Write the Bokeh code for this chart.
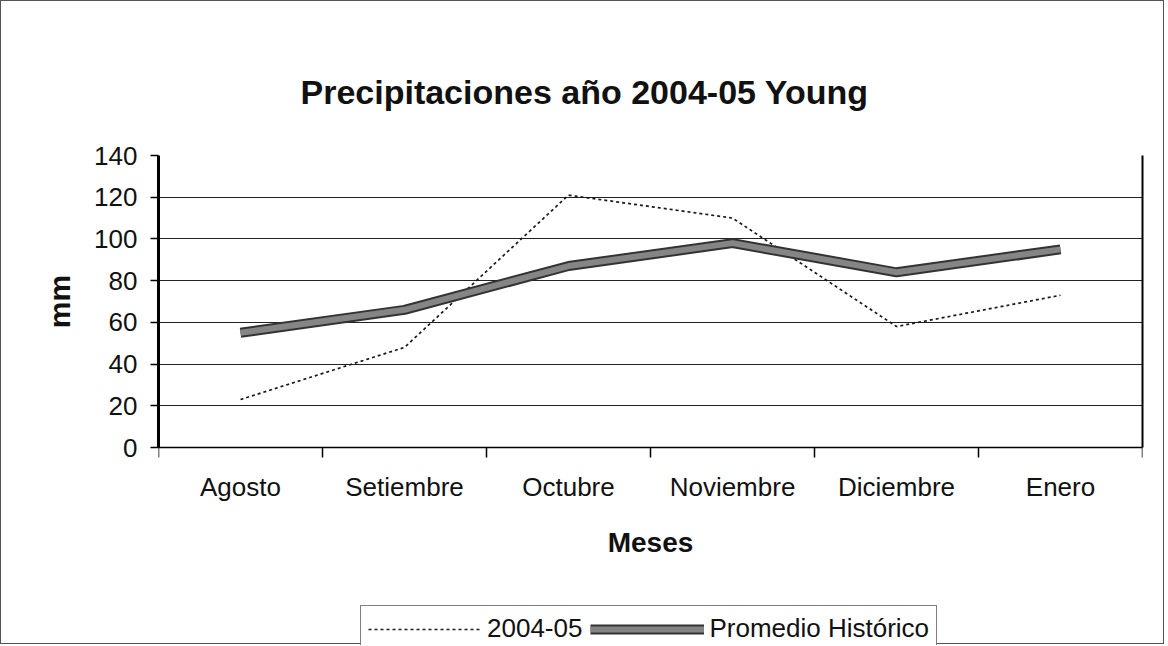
from bokeh.plotting import figure
from bokeh.models import Range1d, FixedTicker, Legend, LegendItem, LinearAxis, Title
from bokeh.embed import file_html
from bokeh.resources import INLINE

# ---- data ----
meses = ["Agosto", "Setiembre", "Octubre", "Noviembre", "Diciembre", "Enero"]
serie_2004_05 = [23, 48, 121, 110, 58, 73]
promedio_historico = [55, 66, 87, 98, 84, 95]
y_ticks = [0, 20, 40, 60, 80, 100, 120, 140]

titulo = "Precipitaciones año 2004-05 Young"
eje_x = "Meses"
eje_y = "mm"

FONT = "Liberation Sans"

# ---- layout (pixels) ----
W, H = 1164, 644
FRAME_TOP = 154          # y pixel of value 140
AXIS_Y = 446             # y pixel of value 0
FRAME_LEFT, FRAME_RIGHT = 157, 1141
Y_MAX = y_ticks[-1]
px_per_unit = (AXIS_Y - FRAME_TOP) / Y_MAX
y_low = -(H - AXIS_Y) / px_per_unit   # extend frame down to canvas bottom

x_pos = [i + 0.5 for i in range(len(meses))]
boundaries = list(range(len(meses) + 1))

p = figure(width=W, height=H, output_backend="svg", toolbar_location=None,
           x_range=Range1d(0, len(meses)), y_range=Range1d(y_low, Y_MAX),
           min_border_left=FRAME_LEFT, min_border_right=W - FRAME_RIGHT,
           min_border_top=FRAME_TOP, min_border_bottom=0)
p.styles = {"border": "1px solid #555"}
p.background_fill_color = "white"
p.border_fill_color = "white"
p.outline_line_color = None

# title
p.title.text = titulo
p.title.text_font = FONT
p.title.text_font_size = "34px"
p.title.text_font_style = "bold"
p.title.text_color = "#111"
p.title.align = "left"
p.title.offset = 142
p.title.standoff = 89

# x axis (drawn at y = 0)
xa = p.xaxis[0]
xa.fixed_location = 0
xa.ticker = FixedTicker(ticks=x_pos, minor_ticks=boundaries)
xa.major_label_overrides = {x: m for x, m in zip(x_pos, meses)}
xa.major_tick_out = 0
xa.major_tick_in = 0
xa.minor_tick_out = 10
xa.minor_tick_in = 0
xa.minor_tick_line_color = "black"
xa.minor_tick_line_width = 1.5
xa.axis_line_color = "black"
xa.axis_line_width = 1.5
xa.major_label_text_font = FONT
xa.major_label_text_font_size = "26px"
xa.major_label_text_color = "#111"
xa.major_label_standoff = 14
xa.axis_label = eje_x
xa.axis_label_text_font = FONT
xa.axis_label_text_font_size = "28px"
xa.axis_label_text_font_style = "bold"
xa.axis_label_text_color = "#111"
xa.axis_label_standoff = 22

# y axis
ya = p.yaxis[0]
ya.bounds = (0, Y_MAX)
ya.ticker = FixedTicker(ticks=y_ticks, minor_ticks=[])
ya.major_tick_out = 8
ya.major_tick_in = 0
ya.major_tick_line_color = "black"
ya.major_tick_line_width = 1.5
ya.minor_tick_out = 0
ya.axis_line_color = "black"
ya.axis_line_width = 3
ya.major_label_text_font = FONT
ya.major_label_text_font_size = "26px"
ya.major_label_text_color = "#111"
ya.major_label_standoff = 13

# y axis title, centred on the 0..140 span (the frame extends lower)
Y_TITLE_SIZE = 30
y_title_len = 2 * 0.889 * Y_TITLE_SIZE
span_center = (FRAME_TOP + AXIS_Y) / 2
y_title = Title(text=eje_y, align="right",
                offset=span_center - FRAME_TOP - y_title_len / 2,
                text_font=FONT, text_font_size=f"{Y_TITLE_SIZE}px", text_font_style="bold",
                text_color="#111", standoff=31)
p.add_layout(y_title, "left")

# right border of the plot area
right_border = LinearAxis(bounds=(0, Y_MAX), ticker=FixedTicker(ticks=[], minor_ticks=[]),
                          major_tick_out=0, major_tick_in=0, minor_tick_out=0, minor_tick_in=0,
                          major_label_text_font_size="0px",
                          axis_line_color="black", axis_line_width=2)
p.add_layout(right_border, "right")

# grid
p.xgrid.visible = False
p.ygrid.grid_line_color = "#222"
p.ygrid.grid_line_width = 1
p.ygrid.bounds = (0, Y_MAX)

# series
r1 = p.line(x_pos, serie_2004_05, line_color="#1a1a1a", line_width=1.7, line_dash="3 3")
r2a = p.line(x_pos, promedio_historico, line_color="#333", line_width=10, line_join="round")
r2b = p.line(x_pos, promedio_historico, line_color="#858585", line_width=6, line_join="round")

legend = Legend(items=[LegendItem(label="2004-05", renderers=[r1]),
                       LegendItem(label="Promedio Histórico", renderers=[r2a, r2b])],
                orientation="horizontal", location=(202, -7),
                label_text_font=FONT, label_text_font_size="26px", label_text_color="#111",
                glyph_width=114, glyph_height=30, padding=7, spacing=8, label_standoff=5,
                border_line_color="black", border_line_width=1.5,
                background_fill_color="white", background_fill_alpha=1.0)
p.add_layout(legend)

open("out.html", "w").write(file_html(p, INLINE))
